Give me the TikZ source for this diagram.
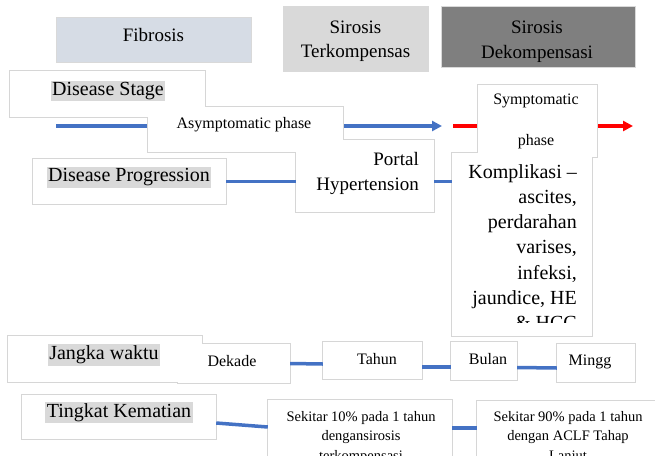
\documentclass[tikz,border=0pt]{standalone}
\usepackage{fontspec}
\setmainfont{Liberation Serif}
\usetikzlibrary{arrows.meta, backgrounds}
\definecolor{fibfill}{RGB}{214,220,229}
\definecolor{terkfill}{RGB}{217,217,217}
\definecolor{dekfill}{RGB}{127,127,127}
\definecolor{hlgray}{RGB}{217,217,217}
\definecolor{edgegray}{RGB}{214,214,214}
\definecolor{linkblue}{RGB}{68,114,196}
\definecolor{linkred}{RGB}{255,0,0}
\tikzset{
  header/.style={draw=black!15, fill=#1, inner sep=0pt, align=center, text=black,
                 font=\fontsize{19}{24.5}\selectfont},
  headtxt/.style={inner sep=0pt, align=center, text=black,
                  font=\fontsize{19}{24.5}\selectfont},
  pane/.style={fill=white, inner sep=0pt},
  paneedge/.style={draw=edgegray, line width=1.6pt},
  hilite/.style={fill=hlgray, inner sep=1.5pt, font=\fontsize{20}{24}\selectfont},
  smalltxt/.style={inner sep=0pt, font=\fontsize{16}{19}\selectfont},
  bigtxt/.style={inner sep=0pt, align=right, font=\fontsize{20}{25.3}\selectfont},
  tinytxt/.style={inner sep=0pt, align=center, anchor=north,
                  font=\fontsize{14.5}{19.5}\selectfont},
  link/.style={line width=3.5pt, draw=linkblue},
  flow/.style={line width=3.5pt, draw=#1, -{Triangle[length=10pt,width=10pt]}},
}

\begin{document}
\begin{tikzpicture}[x=1pt, y=-1pt]
  \useasboundingbox (0,0) rectangle (655,455);

  % Stages
  \node[header=fibfill, minimum width=195pt, minimum height=45pt, text depth=10pt]
    (fib) at (153.5,39.5) {Fibrosis};
  \node[header=terkfill, minimum width=145pt, minimum height=65pt]
    (terk) at (355.5,38.5) {};
  \node[header=dekfill, minimum width=194pt, minimum height=61pt]
    (dekomp) at (538,36.5) {};
  \node[headtxt] (terktxt) at (355.5,41.3) {Sirosis\\Terkompensas};
  \node[headtxt] (dekomptxt) at (537,41.5) {Sirosis\\Dekompensasi};

  % Disease stage
  \node[pane, minimum width=195pt, minimum height=46pt] (stage) at (107.5,94) {};
  \node[pane, minimum width=195pt, minimum height=45pt] (asym) at (245.5,129.5) {};
  \node[pane, minimum width=119pt, minimum height=72pt] (symp) at (537.5,121) {};
  \coordinate (stagefrom) at (56,126);
  \coordinate (stageto) at (442,126);
  \coordinate (sympfrom) at (453,126);
  \coordinate (sympto) at (633,126);

  % Disease progression
  \node[pane, minimum width=193pt, minimum height=45pt] (prog) at (129.5,181.5) {};
  \node[pane, minimum width=138pt, minimum height=72pt] (portal) at (365,176) {};
  \node[pane, minimum width=140pt, minimum height=183pt] (kompl) at (522,244.5) {};

  % Jangka waktu
  \node[pane, minimum width=194pt, minimum height=46pt] (jangka) at (105,359) {};
  \node[pane, minimum width=112pt, minimum height=39pt] (dekade) at (234,363.5) {};
  \node[pane, minimum width=99pt, minimum height=37pt] (tahun) at (372.5,360.5) {};
  \node[pane, minimum width=66pt, minimum height=38pt] (bulan) at (484,361) {};
  \node[pane, minimum width=78pt, minimum height=38pt] (mingg) at (596,363) {};

  % Tingkat kematian
  \node[pane, minimum width=194pt, minimum height=44pt] (tingkat) at (119,417) {};
  \node[pane, minimum width=184pt, minimum height=72pt] (s10) at (360,436) {};
  \node[pane, minimum width=183pt, minimum height=72pt] (s90) at (568.5,437) {};

  % Texts
  \node[hilite] (stagetxt) at (108,91) {Disease Stage};
  \node[smalltxt] (asymtxt) at (244,125) {Asymptomatic phase};
  \node[smalltxt, align=center, font=\fontsize{16}{41}\selectfont]
    (symptxt) at (536,121.5) {Symptomatic\\phase};
  \node[hilite] (progtxt) at (129,177.5) {Disease Progression};
  \node[bigtxt, anchor=east, font=\fontsize{19}{25}\selectfont]
    (porttxt) at (419,173.5) {Portal\\Hypertension};
  \begin{scope}
    \clip (kompl.north west) rectangle ([yshift=14pt]kompl.south east);
    \node[bigtxt, anchor=north east] (kompltxt) at (577,164)
      {Komplikasi –\\ascites,\\perdarahan\\varises,\\infeksi,\\jaundice, HE\\\& HCC};
  \end{scope}
  \node[hilite] (jangtxt) at (104,355) {Jangka waktu};
  \node[smalltxt] (dekadetxt) at (232,361) {Dekade};
  \node[smalltxt] (tahtxt) at (377,359) {Tahun};
  \node[smalltxt] (bultxt) at (488,359) {Bulan};
  \node[smalltxt] (mingtxt) at (590,362) {Mingg};
  \node[hilite] (tingtxt) at (119,412.5) {Tingkat Kematian};
  \node[tinytxt] (s10txt) at (361,411)
    {Sekitar 10\% pada 1 tahun\\dengansirosis\\terkompensasi};
  \node[tinytxt] (s90txt) at (568,411)
    {Sekitar 90\% pada 1 tahun\\dengan ACLF Tahap\\Lanjut};

  % Connectors
  \draw[link] (prog.east) -- (prog.east -| portal.west);
  \draw[link] (portal.east |- prog.east) -- (kompl.west |- prog.east);
  \draw[link] (dekade.east) -- ([yshift=-3.5pt]tahun.west);
  \draw[link] ([yshift=-6.5pt]tahun.east) -- ([yshift=-6pt]bulan.west);
  \draw[link] ([yshift=-6.5pt]bulan.east) -- ([yshift=-5pt]mingg.west);
  \draw[link] ([yshift=-6pt]tingkat.east) -- ([yshift=9pt]s10.west);
  \draw[link] ([yshift=8pt]s10.east) -- ([yshift=9pt]s90.west);

  % Edges under the fills, so that touching panes merge
  \begin{scope}[on background layer]
    \draw[flow=linkblue] (stagefrom) -- (stageto);
    \draw[flow=linkred] (sympfrom) -- (sympto);
    \foreach \n in {stage,asym,symp,prog,portal,kompl,jangka,dekade,tahun,bulan,
                    mingg,tingkat,s10,s90}
      \draw[paneedge] (\n.north west) rectangle (\n.south east);
  \end{scope}
\end{tikzpicture}
\end{document}
